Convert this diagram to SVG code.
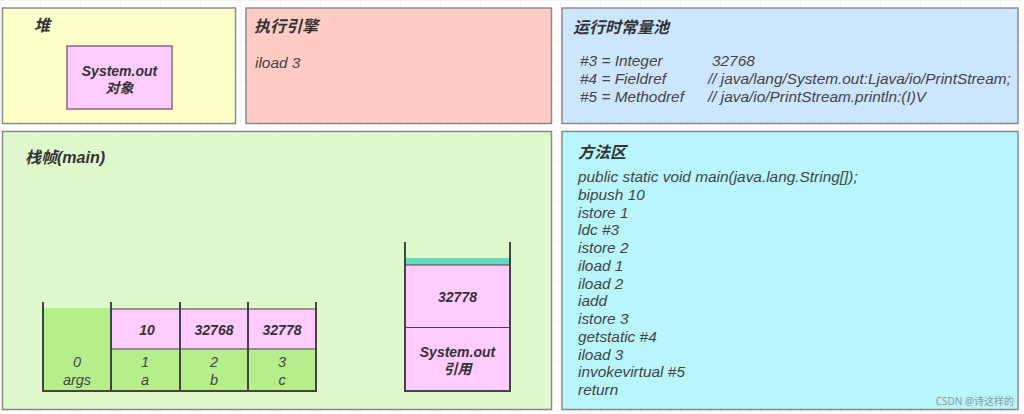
<svg xmlns="http://www.w3.org/2000/svg" width="1024" height="414" viewBox="0 0 1024 414">
<defs>
<pattern id="grid" width="10" height="10" patternUnits="userSpaceOnUse">
<path d="M10 0H0V10" fill="none" stroke="#eeeeee" stroke-width="1"/>
</pattern>
</defs>
<style>
.panel{stroke:#8a8a8a;stroke-width:1.5}
.t{font-family:"Liberation Sans","Noto Sans CJK SC",sans-serif;font-style:italic;fill:#333}
.title{font-size:16px;font-weight:bold}
.code{font-size:15.4px;fill:#444}
.cell{font-size:14px;font-weight:bold;text-anchor:middle}
.idx{font-size:14.5px;text-anchor:middle;fill:#444}
.wall{stroke:#444;stroke-width:2;fill:none}
.div{stroke:#444;stroke-width:1.2}
</style>
<rect width="1024" height="414" fill="#ffffff"/>
<rect width="1024" height="414" fill="url(#grid)"/>

<g id="heap">
<rect class="panel" x="2.5" y="8" width="233" height="115.5" fill="#ffffcc"/>
<text class="t title" x="34" y="31">堆</text>
<g id="system-out-object">
<rect x="67" y="46" width="105" height="63" fill="#ffccff" stroke="#8a6a7a" stroke-width="1.5"/>
<text class="t cell" x="119.5" y="76">System.out</text>
<text class="t cell" x="119.5" y="93">对象</text>
</g>
</g>

<g id="engine">
<rect class="panel" x="246" y="8" width="305.5" height="115.5" fill="#ffccc4"/>
<text class="t title" x="254" y="32">执行引擎</text>
<text class="t code" x="255" y="68" fill="#777">iload 3</text>
</g>

<g id="constant-pool">
<rect class="panel" x="562" y="8" width="456" height="115.5" fill="#cce6ff"/>
<text class="t title" x="573" y="33">运行时常量池</text>
<text class="t code" x="580" y="66">#3 = Integer</text>
<text class="t code" x="712" y="66">32768</text>
<text class="t code" x="580" y="84">#4 = Fieldref</text>
<text class="t code" x="708" y="84">// java/lang/System.out:Ljava/io/PrintStream;</text>
<text class="t code" x="580" y="102">#5 = Methodref</text>
<text class="t code" x="708" y="102">// java/io/PrintStream.println:(I)V</text>
</g>

<g id="stack-frame">
<rect class="panel" x="2.5" y="131.5" width="549" height="278" fill="#e0f9cc"/>
<text class="t title" x="25" y="163">栈帧(main)</text>
<g id="local-vars">
<rect x="43" y="308" width="68" height="83" fill="#b6ee8c"/>
<rect x="111" y="309" width="205" height="40" fill="#ffccff"/>
<rect x="111" y="349" width="205" height="42" fill="#b6ee8c"/>
<line class="div" x1="111" y1="349" x2="316" y2="349"/>
<line class="div" x1="111" y1="309" x2="316" y2="309"/>
<line class="wall" x1="111" y1="302" x2="111" y2="391"/>
<line class="wall" x1="180" y1="302" x2="180" y2="391"/>
<line class="wall" x1="248" y1="302" x2="248" y2="391"/>
<path class="wall" d="M43 302V391H316V302"/>
<text class="t cell" x="147" y="335">10</text>
<text class="t cell" x="214" y="335">32768</text>
<text class="t cell" x="282" y="335">32778</text>
<text class="t idx" x="77" y="367">0</text>
<text class="t idx" x="77" y="385">args</text>
<text class="t idx" x="145" y="367">1</text>
<text class="t idx" x="145" y="385">a</text>
<text class="t idx" x="214" y="367">2</text>
<text class="t idx" x="214" y="385">b</text>
<text class="t idx" x="282" y="367">3</text>
<text class="t idx" x="282" y="385">c</text>
</g>
<g id="operand-stack">
<rect x="405" y="258" width="105" height="7" fill="#5fdcc0"/>
<rect x="405" y="265" width="105" height="126" fill="#ffccff"/>
<line class="div" x1="405" y1="265" x2="510" y2="265"/>
<line class="div" x1="405" y1="327.5" x2="510" y2="327.5"/>
<path class="wall" d="M405 242V391H510V242"/>
<text class="t cell" x="457.5" y="302">32778</text>
<text class="t cell" x="457.5" y="357">System.out</text>
<text class="t cell" x="457.5" y="374">引用</text>
</g>
</g>

<g id="method-area">
<rect class="panel" x="562" y="131.5" width="456" height="278" fill="#b8f6fb"/>
<text class="t title" x="578" y="158">方法区</text>
<text class="t code" x="578" y="182">public static void main(java.lang.String[]);</text>
<text class="t code" x="578" y="199.8">bipush 10</text>
<text class="t code" x="578" y="217.5">istore 1</text>
<text class="t code" x="578" y="235.3">ldc #3</text>
<text class="t code" x="578" y="253">istore 2</text>
<text class="t code" x="578" y="270.8">iload 1</text>
<text class="t code" x="578" y="288.5">iload 2</text>
<text class="t code" x="578" y="306.3">iadd</text>
<text class="t code" x="578" y="324">istore 3</text>
<text class="t code" x="578" y="341.8">getstatic #4</text>
<text class="t code" x="578" y="359.5">iload 3</text>
<text class="t code" x="578" y="377.3">invokevirtual #5</text>
<text class="t code" x="578" y="395">return</text>
<text x="1014" y="405" font-family="Noto Sans,Noto Sans CJK SC,sans-serif" font-size="10" fill="#8a9aa0" text-anchor="end">CSDN @诗这样的</text>
</g>

<g id="connectors"></g>
</svg>
